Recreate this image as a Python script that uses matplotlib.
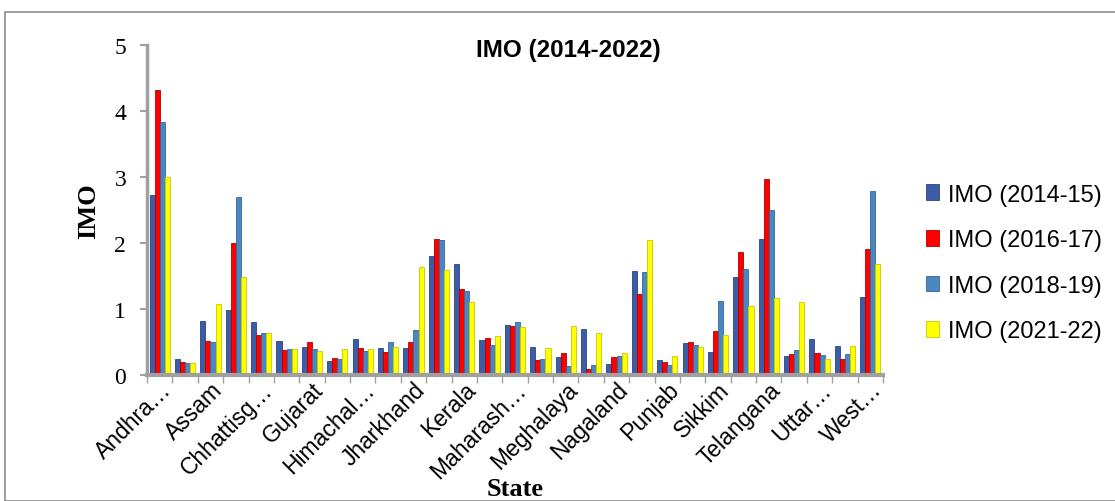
import numpy as np
import matplotlib.pyplot as plt
import matplotlib.transforms as mtransforms
from matplotlib.patches import Rectangle

# data (29 states, alphabetical)
states = ["Andhra Pradesh", "Arunachal Pradesh", "Assam", "Bihar", "Chhattisgarh", "Goa",
          "Gujarat", "Haryana", "Himachal Pradesh", "Jammu & Kashmir", "Jharkhand",
          "Karnataka", "Kerala", "Madhya Pradesh", "Maharashtra", "Manipur", "Meghalaya",
          "Mizoram", "Nagaland", "Odisha", "Punjab", "Rajasthan", "Sikkim", "Tamil Nadu",
          "Telangana", "Tripura", "Uttar Pradesh", "Uttarakhand", "West Bengal"]
tick_text = ["Andhra…", "Assam", "Chhattisg…", "Gujarat", "Himachal…", "Jharkhand",
             "Kerala", "Maharash…", "Meghalaya", "Nagaland", "Punjab", "Sikkim",
             "Telangana", "Uttar…", "West…"]

imo_2014_15 = [2.72, 0.25, 0.82, 0.99, 0.80, 0.52, 0.43, 0.21, 0.54, 0.41, 0.41, 1.81, 1.68,
               0.53, 0.76, 0.42, 0.28, 0.70, 0.17, 1.58, 0.23, 0.49, 0.35, 1.49, 2.06, 0.29,
               0.55, 0.44, 1.18]
imo_2016_17 = [4.32, 0.19, 0.52, 2.00, 0.61, 0.38, 0.50, 0.26, 0.41, 0.35, 0.50, 2.06, 1.30,
               0.56, 0.75, 0.22, 0.34, 0.09, 0.27, 1.23, 0.20, 0.50, 0.67, 1.87, 2.97, 0.32,
               0.34, 0.24, 1.91]
imo_2018_19 = [3.83, 0.18, 0.50, 2.70, 0.63, 0.40, 0.39, 0.25, 0.37, 0.50, 0.68, 2.04, 1.27,
               0.45, 0.80, 0.24, 0.14, 0.15, 0.29, 1.56, 0.15, 0.45, 1.12, 1.60, 2.50, 0.38,
               0.31, 0.32, 2.79]
imo_2021_22 = [3.00, 0.18, 1.07, 1.48, 0.63, 0.40, 0.36, 0.39, 0.39, 0.43, 1.63, 1.59, 1.11,
               0.59, 0.73, 0.41, 0.75, 0.63, 0.34, 2.05, 0.29, 0.42, 0.61, 1.05, 1.17, 1.10,
               0.25, 0.44, 1.68]

series = [imo_2014_15, imo_2016_17, imo_2018_19, imo_2021_22]
names = ["IMO (2014-15)", "IMO (2016-17)", "IMO (2018-19)", "IMO (2021-22)"]
colors = ["#3C5DA6", "#FF0000", "#4A86C0", "#FFFF00"]
edges = ["#2A4580", "#B00000", "#35689A", "#C8C800"]

fig = plt.figure(figsize=(11.15, 5.02), dpi=100)
ax = fig.add_axes([147 / 1115, 1 - 376 / 502, (883 - 147) / 1115, (376 - 46) / 502])

x = np.arange(len(states))
w = 0.2
for k, (vals, nm, c, ec) in enumerate(zip(series, names, colors, edges)):
    ax.bar(x + (k - 1.5) * w, vals, w, color=c, edgecolor=ec, linewidth=0.6, label=nm)

ax.set_xlim(-0.5, len(states) - 0.5)
ax.set_ylim(0, 5)
ax.set_yticks(range(6))
ax.set_yticklabels([str(i) for i in range(6)], fontfamily="Liberation Serif", fontsize=17)
ax.tick_params(axis="y", length=5, color="#A0A0A0", width=1.5, pad=10)

ax.set_xticks(x[::2])
ax.set_xticklabels(tick_text, rotation=45, ha="right", rotation_mode="anchor",
                   fontfamily="Liberation Sans", fontsize=16.5)
shift = mtransforms.ScaledTranslation(14 / 100, -2 / 100, fig.dpi_scale_trans)
for lab in ax.get_xticklabels():
    lab.set_transform(lab.get_transform() + shift)
ax.set_xticks(np.arange(-0.5, len(states)), minor=True)
ax.tick_params(axis="x", which="major", length=0, pad=2)
ax.tick_params(axis="x", which="minor", length=6, color="#A0A0A0", width=1)

for s in ["top", "right"]:
    ax.spines[s].set_visible(False)
ax.spines["left"].set_color("#A0A0A0")
ax.spines["left"].set_linewidth(2.5)
ax.spines["bottom"].set_color("#A0A0A0")
ax.spines["bottom"].set_linewidth(3)

ax.set_ylabel("IMO", fontfamily="Liberation Serif", fontweight="bold", fontsize=19, labelpad=10)
fig.text(515 / 1115, 1 - 490 / 502, "State", fontfamily="Liberation Serif",
         fontweight="bold", fontsize=19, ha="center", va="center")
fig.text(568 / 1115, 1 - 50 / 502, "IMO (2014-2022)", fontfamily="Liberation Sans",
         fontweight="bold", fontsize=17.5, ha="center", va="center")

ax.legend(loc="center left", bbox_to_anchor=(905 / 1115, 1 - 264 / 502),
          bbox_transform=fig.transFigure, frameon=False, handlelength=0.55,
          handleheight=0.65, handletextpad=0.35, labelspacing=1.0,
          prop={"family": "Liberation Sans", "size": 17})

fig.patches.append(Rectangle((5 / 1115, 0), 1.2, 1 - 13 / 502, transform=fig.transFigure,
                             fill=False, edgecolor="#8C8C8C", linewidth=1.2))

fig.savefig("out.png", dpi=100)
